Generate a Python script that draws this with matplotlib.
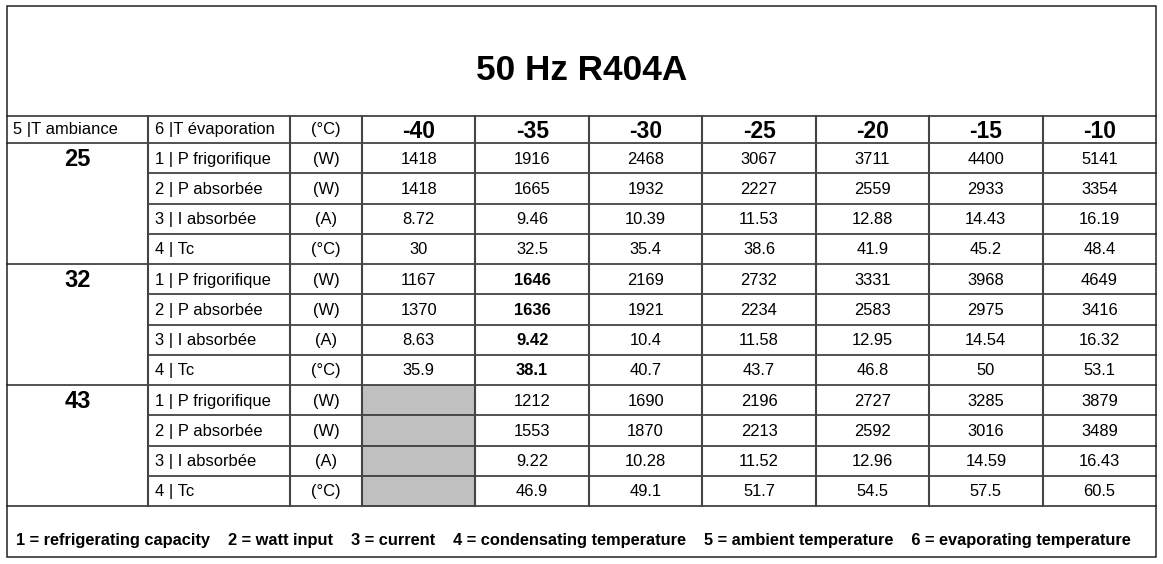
import numpy as np
import matplotlib
matplotlib.use('Agg')
import matplotlib.pyplot as plt
from matplotlib import font_manager
from matplotlib.patches import Rectangle

# data
title = '50 Hz R404A'
evap_temps = [-40, -35, -30, -25, -20, -15, -10]
ambient_temps = [25, 32, 43]
row_labels = ['1 | P frigorifique', '2 | P absorbée', '3 | I absorbée', '4 | Tc']
row_units = ['(W)', '(W)', '(A)', '(°C)']

p_frig = {25: [1418, 1916, 2468, 3067, 3711, 4400, 5141],
          32: [1167, 1646, 2169, 2732, 3331, 3968, 4649],
          43: [None, 1212, 1690, 2196, 2727, 3285, 3879]}
p_abs = {25: [1418, 1665, 1932, 2227, 2559, 2933, 3354],
         32: [1370, 1636, 1921, 2234, 2583, 2975, 3416],
         43: [None, 1553, 1870, 2213, 2592, 3016, 3489]}
i_abs = {25: [8.72, 9.46, 10.39, 11.53, 12.88, 14.43, 16.19],
         32: [8.63, 9.42, 10.4, 11.58, 12.95, 14.54, 16.32],
         43: [None, 9.22, 10.28, 11.52, 12.96, 14.59, 16.43]}
t_cond = {25: [30, 32.5, 35.4, 38.6, 41.9, 45.2, 48.4],
          32: [35.9, 38.1, 40.7, 43.7, 46.8, 50, 53.1],
          43: [None, 46.9, 49.1, 51.7, 54.5, 57.5, 60.5]}
highlight = (32, -35)  # nominal point printed bold

footer = ('1 = refrigerating capacity    2 = watt input    3 = current    '
          '4 = condensating temperature    5 = ambient temperature    '
          '6 = evaporating temperature')

names = {f.name for f in font_manager.fontManager.ttflist}
if 'Liberation Sans Narrow' in names:
    narrow, nscale = 'Liberation Sans Narrow', 1.0
else:
    narrow, nscale = 'Liberation Sans', 0.82
wide = 'Liberation Sans'

W, H = 1163, 564
fig = plt.figure(figsize=(W / 100, H / 100), dpi=100)
ax = fig.add_axes([0, 0, 1, 1])
ax.set_xlim(0, W)
ax.set_ylim(H, 0)
ax.axis('off')

# layout (pixels)
left, right, top, bottom = 7, 1156, 6, 557
x_lab, x_unit, x_data = 148, 290, 362
col_w = (right - x_data) / len(evap_temps)
y_head, y_rows = 116, 143
row_h = 30.25
n_rows = len(ambient_temps) * len(row_labels)
y_end = y_rows + n_rows * row_h
lc = '#222222'
vc = '#444444'
lw = 1.1

# grey cells (no data)
for g, amb in enumerate(ambient_temps):
    for r, series in enumerate([p_frig, p_abs, i_abs, t_cond]):
        for c, v in enumerate(series[amb]):
            if v is None:
                y0 = y_rows + (g * 4 + r) * row_h
                ax.add_patch(Rectangle((x_data + c * col_w, y0), col_w, row_h,
                                       facecolor='#c0c0c0', edgecolor='#d8d8d8',
                                       lw=0.8, zorder=1))

# outer frame
ax.add_patch(Rectangle((left, top), right - left, bottom - top, fill=False,
                       edgecolor=lc, lw=lw, zorder=3))
ax.plot([left, right], [y_head, y_head], color=lc, lw=lw, zorder=3)
ax.plot([left, right], [y_rows, y_rows], color=lc, lw=lw, zorder=3)
ax.plot([left, right], [y_end, y_end], color=lc, lw=lw, zorder=3)
for k in range(1, n_rows):
    yy = y_rows + k * row_h
    x0 = left if k % 4 == 0 else x_lab
    ax.plot([x0, right], [yy, yy], color=lc, lw=lw, zorder=3)
for xx in [x_lab, x_unit, x_data] + [x_data + c * col_w for c in range(1, len(evap_temps))]:
    ax.plot([xx, xx], [y_head, y_end], color=vc, lw=lw + 0.4, zorder=3)

# title
ax.text((left + right) / 2, 71, title, ha='center', va='center',
        fontsize=25.3, fontweight='bold', family=wide)

# header row
yh = (y_head + y_rows) / 2
ax.text(13, yh, '5 |T ambiance', ha='left', va='center',
        fontsize=14.5 * nscale, family=narrow)
ax.text(x_lab + 7, yh, '6 |T évaporation', ha='left', va='center',
        fontsize=14.5 * nscale, family=narrow)
ax.text((x_unit + x_data) / 2, yh, '(°C)', ha='center', va='center',
        fontsize=14.5 * nscale, family=narrow)
for c, t in enumerate(evap_temps):
    ax.text(x_data + (c + 0.5) * col_w, yh + 2, f'{t}', ha='center', va='center',
            fontsize=16.5, fontweight='bold', family=wide)

# body
for g, amb in enumerate(ambient_temps):
    y0 = y_rows + g * 4 * row_h
    ax.text((left + x_lab) / 2, y0 + row_h / 2 + 1, f'{amb}', ha='center',
            va='center', fontsize=17, fontweight='bold', family=wide)
    for r, series in enumerate([p_frig, p_abs, i_abs, t_cond]):
        yc = y0 + (r + 0.5) * row_h + 1
        ax.text(x_lab + 7, yc, row_labels[r], ha='left', va='center',
                fontsize=14.5 * nscale, family=narrow)
        ax.text((x_unit + x_data) / 2, yc, row_units[r], ha='center', va='center',
                fontsize=14.5 * nscale, family=narrow)
        for c, v in enumerate(series[amb]):
            if v is None:
                continue
            bold = (amb, evap_temps[c]) == highlight
            ax.text(x_data + (c + 0.5) * col_w, yc, f'{v:g}', ha='center',
                    va='center', fontsize=14.5 * nscale, family=narrow,
                    fontweight='bold' if bold else 'normal')

# footer legend
ax.text(16, 540, footer, ha='left', va='center', fontsize=14.4 * nscale,
        fontweight='bold', family=narrow)

fig.savefig('out.png', dpi=100)
